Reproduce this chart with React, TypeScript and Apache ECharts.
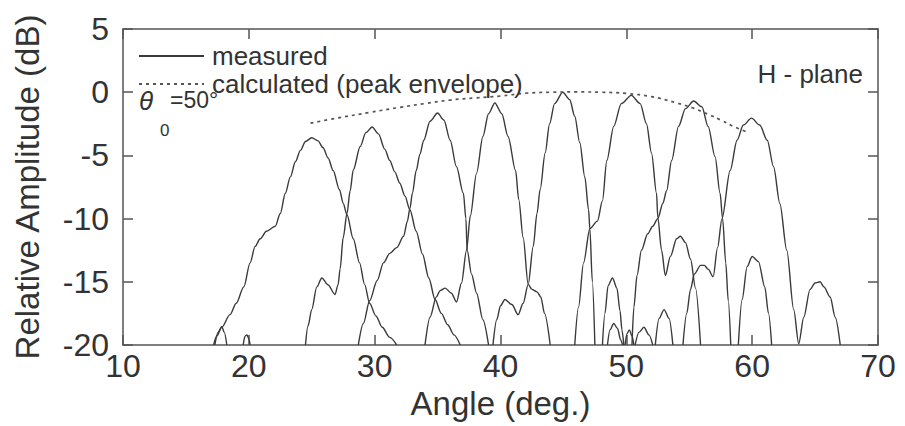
import React, { useEffect, useRef } from 'react';
import * as echarts from 'echarts';

const FONT = "'Liberation Sans', Arial, Helvetica, sans-serif";

const xRange = { min: 10, max: 70, interval: 10 };
const yRange = { min: -20, max: 5, interval: 5 };

const beam1 = [[17.2,-20],[17.45,-19.3],[17.85,-18.6],[18.5,-17.6],[19.0,-16.7],[19.6,-15.4],[20.1,-13.5],[20.5,-12.2],[20.9,-11.6],[21.4,-11.0],[22.1,-10.6],[22.5,-9.6],[22.9,-8.0],[23.3,-6.7],[23.7,-5.5],[24.1,-4.6],[24.5,-3.9],[25.0,-3.6],[25.5,-3.85],[25.9,-4.4],[26.3,-5.2],[26.7,-6.2],[27.2,-7.7],[27.5,-8.8],[27.8,-9.7],[28.3,-11.6],[28.8,-13.5],[29.2,-15.2],[29.6,-16.7],[30.1,-17.7],[30.6,-18.6],[31.2,-19.4],[31.75,-20]];
const beam2 = [[24.5,-20],[24.7,-18.5],[25.0,-17.2],[25.4,-15.4],[25.8,-14.7],[26.3,-15.25],[26.85,-16.0],[27.1,-15.2],[27.25,-14.0],[27.5,-11.5],[27.8,-9.6],[28.05,-7.8],[28.3,-6.15],[28.85,-4.3],[29.3,-3.2],[29.8,-2.75],[30.3,-3.3],[30.8,-4.5],[31.2,-5.4],[31.6,-6.3],[32.0,-7.2],[32.4,-8.2],[32.8,-9.3],[33.3,-11.0],[33.8,-12.8],[34.3,-14.7],[34.8,-16.4],[35.3,-17.5],[35.8,-18.4],[36.3,-19.2],[36.8,-20]];
const beam3 = [[28.7,-20],[29.1,-18.3],[29.6,-16.5],[30.2,-14.9],[30.7,-13.5],[31.2,-12.75],[31.75,-12.3],[32.3,-11.4],[32.6,-10.2],[32.8,-9.2],[33.0,-8.0],[33.3,-6.2],[33.6,-4.9],[33.9,-3.8],[34.4,-2.3],[35.0,-1.65],[35.5,-2.2],[36.0,-3.8],[36.5,-5.9],[37.05,-8.0],[37.25,-10.0],[37.35,-12.5],[37.7,-14.4],[38.1,-15.9],[38.6,-18.0],[39.05,-20]];
const beam4 = [[34.0,-20],[34.4,-17.8],[34.9,-16.2],[35.2,-15.7],[35.6,-15.5],[36.1,-15.9],[36.5,-16.6],[36.9,-15.1],[37.3,-12.5],[37.6,-9.8],[38.1,-6.4],[38.6,-3.5],[39.05,-1.7],[39.55,-0.85],[40.1,-1.7],[40.6,-3.5],[41.2,-6.2],[41.45,-8.5],[41.8,-11.5],[42.2,-15.2],[42.5,-15.6],[42.9,-15.8],[43.2,-16.2],[43.5,-17.5],[43.95,-20]];
const beam5 = [[39.4,-20],[39.7,-18.0],[40.0,-16.9],[40.35,-16.4],[40.9,-16.8],[41.4,-17.6],[41.8,-16.7],[42.2,-15.2],[42.6,-12.2],[42.9,-9.6],[43.15,-7.7],[43.55,-4.8],[43.9,-2.5],[44.3,-0.9],[44.95,0.0],[45.5,-0.6],[45.9,-1.9],[46.3,-4.0],[46.7,-6.7],[47.0,-9.3],[47.1,-10.8],[47.3,-15.0],[47.5,-20]];
const beam6 = [[45.9,-20],[46.2,-17.0],[46.6,-13.5],[47.1,-10.8],[47.7,-10.2],[48.1,-8.6],[48.45,-5.4],[49.0,-2.7],[49.6,-0.9],[50.4,-0.25],[51.1,-0.9],[51.6,-2.5],[52.0,-4.8],[52.4,-8.0],[52.5,-9.9],[52.8,-12.5],[53.1,-14.5],[53.5,-13.0],[54.0,-11.6],[54.3,-11.4],[54.7,-11.9],[55.1,-13.2],[55.5,-15.5],[55.9,-20]];
const beam7 = [[50.45,-20],[50.6,-17.0],[50.85,-14.5],[51.2,-12.5],[51.7,-11.2],[52.1,-10.6],[52.5,-10.0],[52.9,-8.8],[53.2,-7.8],[53.6,-5.4],[54.15,-2.7],[54.7,-1.3],[55.35,-0.7],[56.0,-1.15],[56.5,-2.7],[57.05,-5.1],[57.45,-8.0],[57.65,-10.0],[57.9,-13.5],[58.1,-16.5],[58.3,-20]];
const beam8 = [[54.5,-20],[54.8,-17.5],[55.1,-15.6],[55.4,-14.4],[55.9,-13.7],[56.2,-13.7],[56.5,-14.0],[56.9,-14.6],[57.25,-12.3],[57.6,-10.0],[58.25,-6.2],[58.8,-3.8],[59.3,-2.6],[59.95,-2.05],[60.6,-2.6],[61.2,-3.8],[61.7,-5.9],[62.2,-8.8],[62.75,-12.5],[63.3,-17.2],[63.7,-19.9],[64.1,-17.8],[64.6,-15.6],[65.0,-15.1],[65.4,-15.0],[65.7,-15.4],[66.2,-16.2],[66.6,-17.8],[67.0,-20]];

const lobeA = [[17.3,-20],[17.55,-19.0],[17.85,-18.55],[18.05,-19.0],[18.25,-20]];
const lobeB = [[19.55,-20],[19.7,-19.3],[19.85,-19.2],[20.0,-19.5],[20.1,-20]];
const lobeC = [[48.1,-20],[48.3,-17.5],[48.55,-15.3],[48.9,-14.7],[49.25,-15.5],[49.5,-17.3],[49.65,-18.8],[49.8,-20]];
const lobeD = [[48.5,-20],[48.7,-18.8],[49.0,-18.3],[49.3,-18.7],[49.55,-19.6],[49.7,-20]];
const lobeE = [[49.9,-20],[50.05,-19.1],[50.25,-18.8],[50.45,-19.3],[50.6,-20]];
const lobeF = [[50.7,-20],[51.0,-19.0],[51.4,-18.6],[51.8,-19.2],[52.1,-20]];
const lobeG = [[52.3,-20],[52.6,-17.9],[53.0,-17.2],[53.4,-17.9],[53.7,-20]];
const lobeH = [[58.9,-20],[59.2,-16.4],[59.6,-13.8],[60.0,-13.0],[60.5,-13.4],[61.0,-15.4],[61.3,-17.5],[61.55,-20]];

const measured = [beam1, beam2, beam3, beam4, beam5, beam6, beam7, beam8, lobeA, lobeB, lobeC, lobeD, lobeE, lobeF, lobeG, lobeH];

const envelope = [[24.9,-2.45],[27,-2.05],[29.6,-1.6],[32,-1.2],[34,-0.9],[36,-0.62],[38,-0.45],[40,-0.3],[42,-0.08],[44,0],[46,0.02],[48,0],[50,-0.1],[52,-0.35],[54,-0.85],[55.3,-1.25],[56.5,-1.75],[57.5,-2.2],[58.5,-2.7],[59.7,-3.2]];

const legendNames = ['measured', 'calculated (peak envelope)'];

export default function App() {
  const ref = useRef<HTMLDivElement>(null);
  useEffect(() => {
    const chart = echarts.init(ref.current!, null, { renderer: 'svg' });
    const axisLine = { show: true, onZero: false, lineStyle: { color: '#555', width: 1.5 } };
    const tick = { show: true, inside: true, length: 10, lineStyle: { color: '#555', width: 1.5 } };
    const series: any[] = measured.map((d) => ({
      type: 'line', name: legendNames[0], data: d, symbol: 'none', smooth: 0.3, smoothMonotone: 'x',
      lineStyle: { color: '#3a3a3a', width: 1.4 }, itemStyle: { color: '#3a3a3a' }, clip: true,
    }));
    series.push({
      type: 'line', name: legendNames[1], data: envelope, symbol: 'none', smooth: 0.4,
      lineStyle: { color: '#555', width: 1.7, type: [3, 4] }, itemStyle: { color: '#555' }, clip: true,
    });
    chart.setOption({
      animation: false,
      backgroundColor: '#fff',
      textStyle: { fontFamily: FONT },
      grid: { left: 123, right: 27, top: 29, bottom: 81, containLabel: false },
      legend: {
        data: legendNames, orient: 'vertical', left: 133, top: 38, itemWidth: 65, itemHeight: 14, itemGap: 2,
        selectedMode: false, itemStyle: { opacity: 0 },
        textStyle: { fontSize: 26, color: '#333', fontFamily: FONT, padding: [0, 0, 0, 3] },
      },
      xAxis: [
        { type: 'value', position: 'bottom', ...xRange, axisLine, axisTick: tick, splitLine: { show: false },
          axisLabel: { fontSize: 32, color: '#333', margin: 5, fontFamily: FONT },
          name: 'Angle (deg.)', nameLocation: 'middle', nameGap: 38,
          nameTextStyle: { fontSize: 33, color: '#333', fontFamily: FONT } },
        { type: 'value', position: 'top', ...xRange, axisLine, axisTick: tick, splitLine: { show: false },
          axisLabel: { show: false } },
      ],
      yAxis: [
        { type: 'value', position: 'left', ...yRange, axisLine, axisTick: tick, splitLine: { show: false },
          axisLabel: { fontSize: 32, color: '#333', margin: 14, fontFamily: FONT },
          name: 'Relative Amplitude (dB)', nameLocation: 'middle', nameGap: 79,
          nameTextStyle: { fontSize: 33, color: '#333', fontFamily: FONT } },
        { type: 'value', position: 'right', ...yRange, axisLine, axisTick: tick, splitLine: { show: false },
          axisLabel: { show: false } },
      ],
      graphic: [
        { type: 'text', left: 139, top: 88, style: { text: 'θ', fontSize: 26, fontStyle: 'italic', fill: '#333', fontFamily: FONT } },
        { type: 'text', left: 160, top: 122, style: { text: '0', fontSize: 17, fill: '#333', fontFamily: FONT } },
        { type: 'text', left: 170, top: 88, style: { text: '=50°', fontSize: 23, fill: '#333', fontFamily: FONT } },
        { type: 'text', right: 42, top: 61, style: { text: 'H - plane', fontSize: 26, fill: '#333', fontFamily: FONT } },
      ],
      series,
    });
    return () => chart.dispose();
  }, []);
  return <div ref={ref} style={{ position: 'absolute', left: 0, top: 0, width: 905, height: 426 }} />;
}
